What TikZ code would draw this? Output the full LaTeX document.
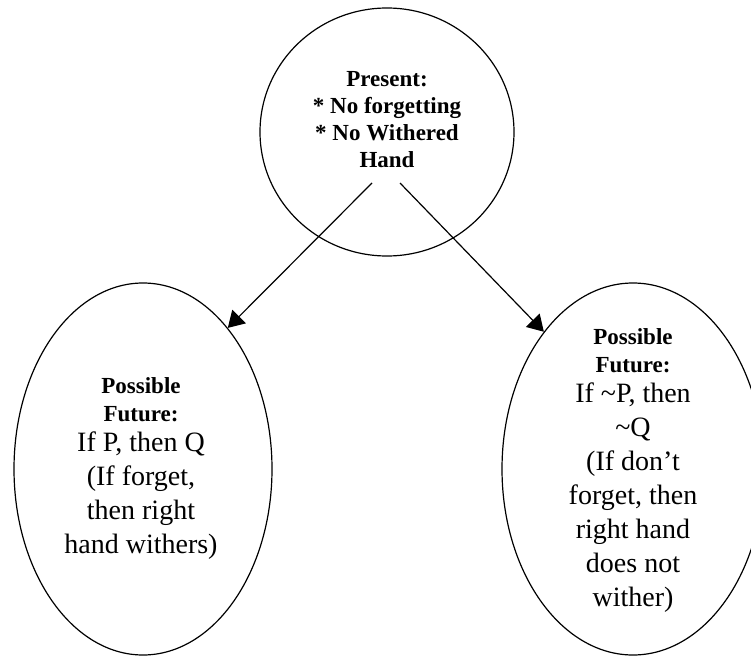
\documentclass[tikz,border=0pt]{standalone}
\usepackage{fontspec}
\setmainfont{Liberation Serif}
\usetikzlibrary{arrows.meta,shapes.geometric}
\begin{document}
\begin{tikzpicture}[x=1pt,y=-1pt,
  bubble/.style={draw, line width=1.2pt, ellipse, inner sep=0pt},
  conn/.style={line width=1.2pt, -{Triangle[length=16pt,width=19pt]}},
  bodytext/.style={align=center, inner sep=0pt, font=\fontsize{28}{34}\selectfont},
  headtext/.style={align=center, inner sep=0pt, font=\bfseries\fontsize{23}{27}\selectfont}]
\useasboundingbox (0,0) rectangle (751,658);
% nodes
\node[bubble, minimum width=254pt, minimum height=248pt] (present) at (387,132) {};
\node[headtext] (presenttext) at (387,120) {Present:\\* No forgetting\\* No Withered\\Hand};
\node[bubble, minimum width=258pt, minimum height=372pt] (left) at (143,469) {};
\node[bodytext] (lefttext) at (141,468) {{\bfseries\fontsize{23}{28}\selectfont Possible}\\[-6pt]{\bfseries\fontsize{23}{28}\selectfont Future:}\\[-4pt]If P, then Q\\(If forget,\\then right\\hand withers)};
\node[bubble, minimum width=262pt, minimum height=372pt] (right) at (633,469) {};
\node[bodytext] (righttext) at (633,470) {{\bfseries\fontsize{23}{28}\selectfont Possible}\\[-6pt]{\bfseries\fontsize{23}{28}\selectfont Future:}\\[-4pt]If \textasciitilde P, then\\\textasciitilde Q\\(If don’t\\forget, then\\right hand\\does not\\wither)};
% connectors
\coordinate (s1) at (372,183);
\coordinate (s2) at (400,183);
\draw[conn] (s1) -- (left.59);
\draw[conn] (s2) -- (right.123);
\end{tikzpicture}
\end{document}
